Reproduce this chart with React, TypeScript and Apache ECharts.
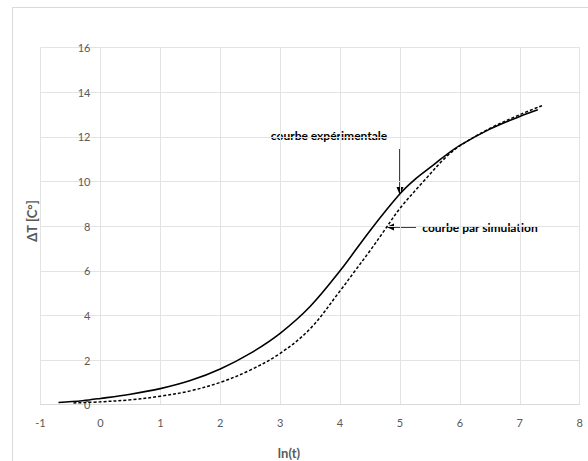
import React, { useEffect, useRef } from "react";
import * as echarts from "echarts";

const expX = [-0.7, -0.3, 0, 0.5, 1, 1.5, 2, 2.5, 3, 3.5, 4, 4.5, 5, 5.25, 5.5, 5.75, 6, 6.5, 7, 7.3];
const expY = [0.1, 0.18, 0.28, 0.47, 0.72, 1.08, 1.6, 2.3, 3.2, 4.4, 6.0, 7.8, 9.45, 10.1, 10.62, 11.15, 11.62, 12.35, 12.92, 13.22];

const simX = [-0.45, 0, 0.5, 1, 1.5, 2, 2.5, 3, 3.5, 4, 4.25, 4.5, 4.75, 5, 5.39, 5.75, 6, 6.5, 7, 7.37];
const simY = [0.08, 0.13, 0.22, 0.38, 0.62, 1.0, 1.55, 2.3, 3.4, 5.1, 6.0, 6.9, 7.85, 8.8, 10.0, 11.05, 11.6, 12.38, 13.0, 13.4];

const xTicks = { min: -1, max: 8, interval: 1 };
const yTicks = { min: 0, max: 16, interval: 2 };

const labelExp = "courbe expérimentale";
const labelSim = "courbe par simulation";
const xTitle = "ln(t)";
const yTitle = "ΔT [C°]";

export default function App() {
  const ref = useRef<HTMLDivElement>(null);
  useEffect(() => {
    if (!ref.current) return;
    const chart = echarts.init(ref.current, undefined, { renderer: "svg" });
    const font = "Lato, 'Open Sans', sans-serif";
    const gridLeft = 40.5;
    const gridRight = 8.3;
    const plotW = 588 - gridLeft - gridRight;
    const zeroOffset = (plotW * (0 - xTicks.min)) / (xTicks.max - xTicks.min);
    chart.setOption({
      animation: false,
      backgroundColor: "#ffffff",
      grid: { left: gridLeft, right: gridRight, top: 47.7, bottom: 56.3, containLabel: false },
      xAxis: {
        type: "value",
        min: xTicks.min,
        max: xTicks.max,
        interval: xTicks.interval,
        axisLine: { show: true, onZero: false, lineStyle: { color: "#d9d9d9", width: 1 } },
        axisTick: { show: false },
        axisLabel: { color: "#595959", fontSize: 11, fontFamily: font, margin: 12 },
        splitLine: { show: true, lineStyle: { color: "#e3e3e3", width: 1 } },
      },
      yAxis: {
        type: "value",
        min: yTicks.min,
        max: yTicks.max,
        interval: yTicks.interval,
        offset: -zeroOffset,
        axisLine: { show: false, onZero: false },
        axisTick: { show: false },
        axisLabel: { color: "#595959", fontSize: 11, fontFamily: font, margin: 10 },
        splitLine: { show: true, lineStyle: { color: "#e3e3e3", width: 1 } },
      },
      series: [
        {
          type: "line",
          name: labelExp,
          data: expX.map((x, i) => [x, expY[i]]),
          smooth: 0.35,
          showSymbol: false,
          lineStyle: { color: "#000000", width: 1.6 },
        },
        {
          type: "line",
          name: labelSim,
          data: simX.map((x, i) => [x, simY[i]]),
          smooth: 0.35,
          showSymbol: false,
          lineStyle: { color: "#000000", width: 1.5, type: [3, 2] },
        },
      ],
      graphic: [
        {
          type: "rect",
          shape: { x: 12.5, y: 7.5, width: 620, height: 520 },
          style: { fill: "none", stroke: "#d9d9d9", lineWidth: 1 },
          z: -10,
          silent: true,
        },
        {
          type: "text",
          x: 32,
          y: 221,
          rotation: Math.PI / 2,
          style: {
            text: yTitle,
            fill: "#595959",
            font: `bold 13px ${font}`,
            align: "center",
            verticalAlign: "middle",
          },
        },
        {
          type: "text",
          x: 289,
          y: 453,
          style: {
            text: xTitle,
            fill: "#595959",
            font: `bold 13px ${font}`,
            align: "center",
            verticalAlign: "middle",
          },
        },
        {
          type: "text",
          x: 329,
          y: 135,
          style: {
            text: labelExp,
            fill: "#000000",
            font: `bold 12px ${font}`,
            align: "center",
            verticalAlign: "middle",
          },
        },
        {
          type: "text",
          x: 480,
          y: 227.5,
          style: {
            text: labelSim,
            fill: "#000000",
            font: `bold 12px ${font}`,
            align: "center",
            verticalAlign: "middle",
          },
        },
        {
          type: "line",
          shape: { x1: 400, y1: 149, x2: 400, y2: 188 },
          style: { stroke: "#000000", lineWidth: 1.5 },
        },
        {
          type: "polygon",
          shape: { points: [[396.5, 187], [403.5, 187], [400, 195.5]] },
          style: { fill: "#000000" },
        },
        {
          type: "line",
          shape: { x1: 416, y1: 227, x2: 393, y2: 227 },
          style: { stroke: "#000000", lineWidth: 1.5 },
        },
        {
          type: "polygon",
          shape: { points: [[394, 223.5], [394, 230.5], [386.5, 227]] },
          style: { fill: "#000000" },
        },
      ],
    });
    return () => chart.dispose();
  }, []);
  return (
    <div
      ref={ref}
      style={{ position: "fixed", left: 0, top: 0, width: 588, height: 461 }}
    />
  );
}
